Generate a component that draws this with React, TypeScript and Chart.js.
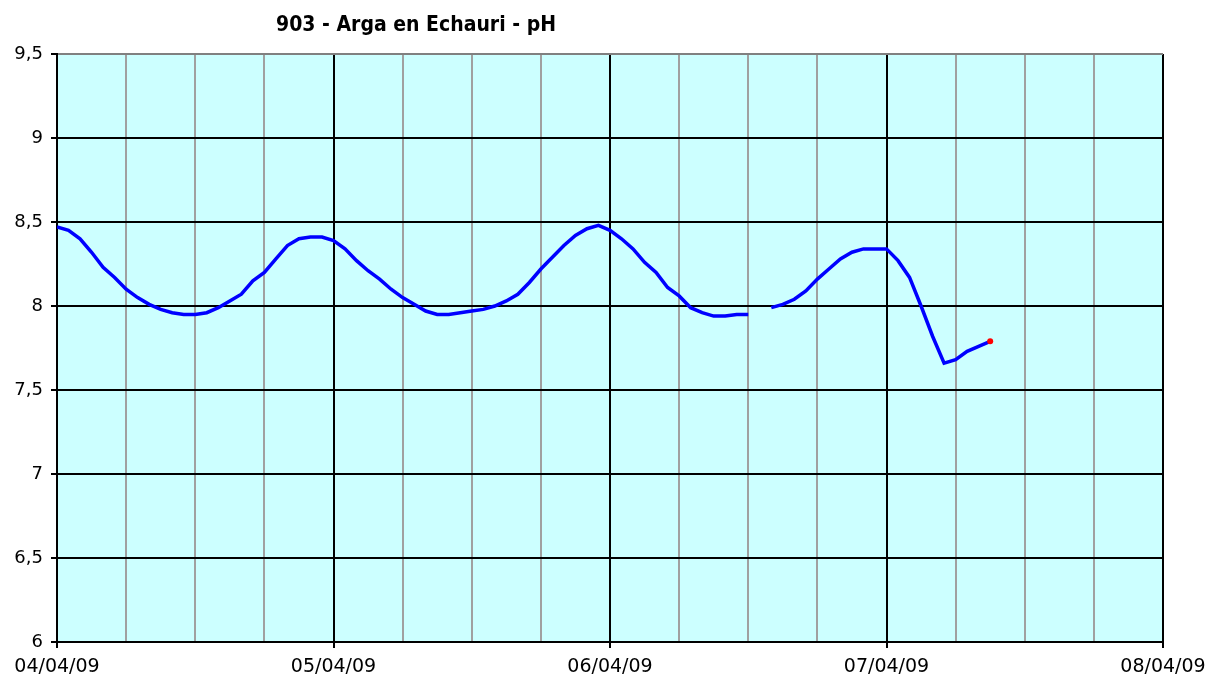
import React, { useEffect, useRef } from "react";
import { Chart, registerables } from "chart.js";

Chart.register(...registerables);

const TITLE = "903 - Arga en Echauri - pH";
const DAY_LABELS = ["04/04/09", "05/04/09", "06/04/09", "07/04/09", "08/04/09"];
const HOURS = [
  0, 1, 2, 3, 4, 5, 6, 7, 8, 9, 10, 11, 12, 13, 14, 15, 16, 17, 18, 19, 20,
  21, 22, 23, 24, 25, 26, 27, 28, 29, 30, 31, 32, 33, 34, 35, 36, 37, 38, 39,
  40, 41, 42, 43, 44, 45, 46, 47, 48, 49, 50, 51, 52, 53, 54, 55, 56, 57, 58,
  59, 60, 61, 62, 63, 64, 65, 66, 67, 68, 69, 70, 71, 72, 73, 74, 75, 76, 77,
  78, 79, 80, 81,
];
const PH: (number | null)[] = [
  8.47, 8.45, 8.40, 8.32, 8.23, 8.17, 8.10, 8.05, 8.01, 7.98, 7.96, 7.95, 7.95,
  7.96, 7.99, 8.03, 8.07, 8.15, 8.20, 8.28, 8.36, 8.40, 8.41, 8.41, 8.39, 8.34,
  8.27, 8.21, 8.16, 8.10, 8.05, 8.01, 7.97, 7.95, 7.95, 7.96, 7.97, 7.98, 8.00,
  8.03, 8.07, 8.14, 8.22, 8.29, 8.36, 8.42, 8.46, 8.48, 8.45, 8.40, 8.34, 8.26,
  8.20, 8.11, 8.06, 7.99, 7.96, 7.94, 7.94, 7.95, 7.95, null, 7.99, 8.01, 8.04,
  8.09, 8.16, 8.22, 8.28, 8.32, 8.34, 8.34, 8.34, 8.27, 8.17, 8.00, 7.82, 7.66,
  7.68, 7.73, 7.76, 7.79,
];
const Y_MIN = 6;
const Y_MAX = 9.5;
const Y_STEP = 0.5;
const X_MAX_HOURS = 96;
const X_STEP_HOURS = 6;

const FONT = "'DejaVu Sans', Verdana, sans-serif";
const TITLE_FONT = "'DejaVu Sans Condensed', 'DejaVu Sans', sans-serif";

export default function App() {
  const ref = useRef<HTMLCanvasElement | null>(null);

  useEffect(() => {
    if (!ref.current) return;
    const data = HOURS.map((h, i) => ({ x: h, y: PH[i] }));
    const lastIdx = PH.length - 1;

    const bgPlugin = {
      id: "plotBg",
      beforeDraw(chart: any) {
        const { ctx, chartArea } = chart;
        ctx.save();
        ctx.fillStyle = "#CCFFFF";
        ctx.fillRect(
          chartArea.left,
          chartArea.top,
          chartArea.right - chartArea.left,
          chartArea.bottom - chartArea.top
        );
        ctx.restore();
      },
    };

    const titlePlugin = {
      id: "customTitle",
      afterDraw(chart: any) {
        const { ctx } = chart;
        ctx.save();
        ctx.font = `bold 21px ${TITLE_FONT}`;
        ctx.fillStyle = "#000";
        ctx.textAlign = "center";
        ctx.textBaseline = "alphabetic";
        ctx.fillText(TITLE, 416, 31);
        ctx.restore();
      },
    };

    const chart = new Chart(ref.current, {
      type: "line",
      data: {
        datasets: [
          {
            data: data as any,
            borderColor: "#0000FF",
            borderWidth: 3.5,
            spanGaps: false,
            tension: 0,
            pointRadius: (c: any) => (c.dataIndex === lastIdx ? 3 : 0),
            pointBackgroundColor: "#FF0000",
            pointBorderColor: "#FF0000",
            pointBorderWidth: 0,
          },
        ],
      },
      options: {
        animation: false,
        responsive: false,
        layout: { padding: { top: 54, right: 58, left: 0, bottom: 0 } },
        plugins: {
          legend: { display: false },
          title: { display: false },
          tooltip: { enabled: false },
        },
        scales: {
          x: {
            type: "linear",
            min: 0,
            max: X_MAX_HOURS,
            afterFit(scale: any) {
              scale.height = 37;
            },
            ticks: {
              stepSize: X_STEP_HOURS,
              autoSkip: false,
              maxRotation: 0,
              padding: 8,
              color: "#000",
              font: { family: FONT, size: 19 },
              callback: (v: any) =>
                Number(v) % 24 === 0 ? DAY_LABELS[Number(v) / 24] : "",
            },
            grid: {
              color: (c: any) =>
                c.tick && c.tick.value % 24 === 0 ? "#000000" : "#A0A0A0",
              lineWidth: 2,
              tickLength: 6,
              tickColor: (c: any) =>
                c.tick && c.tick.value % 24 === 0 ? "#000000" : "rgba(0,0,0,0)",
            },
            border: { color: "#000", width: 2 },
          },
          y: {
            min: Y_MIN,
            max: Y_MAX,
            afterFit(scale: any) {
              scale.width = 57;
            },
            ticks: {
              stepSize: Y_STEP,
              padding: 8,
              color: "#000",
              font: { family: FONT, size: 18 },
              callback: (v: any) => String(v).replace(".", ","),
            },
            grid: {
              color: (c: any) =>
                c.tick && c.tick.value === Y_MAX ? "#808080" : "#000000",
              lineWidth: 2,
              tickLength: 6,
              tickColor: "#000",
            },
            border: { color: "#000", width: 2 },
          },
        },
      },
      plugins: [bgPlugin, titlePlugin],
    });

    return () => chart.destroy();
  }, []);

  return (
    <div style={{ position: "fixed", left: 0, top: 0, width: 1221, height: 679, background: "#fff" }}>
      <canvas ref={ref} width={1221} height={679} />
    </div>
  );
}
